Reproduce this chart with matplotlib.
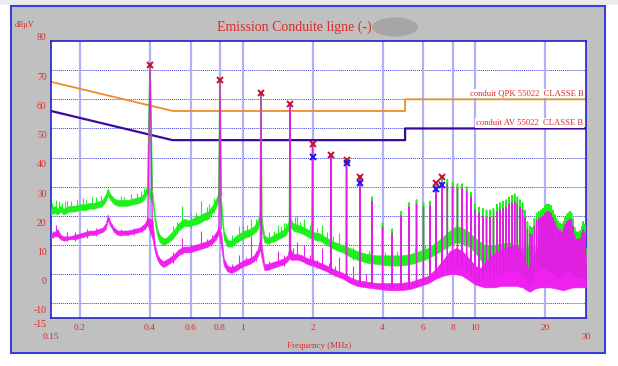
import numpy as np
import matplotlib
matplotlib.use('Agg')
from matplotlib import pyplot as plt
from matplotlib.patches import Rectangle, Ellipse
from matplotlib.ticker import NullLocator

plt.rcParams['font.family'] = ['Liberation Serif', 'DejaVu Serif']

RED = '#e02828'

# ---- limit lines (EN 55022 class B) ----
qpk_freq = [0.15, 0.5, 5.0, 5.0, 30.0]
qpk_level = [66, 56, 56, 60, 60]
av_freq = [0.15, 0.5, 5.0, 5.0, 30.0]
av_level = [56, 46, 46, 50, 50]

# ---- peak trace (green): noise floor band, MHz / dBuV low / dBuV high ----
g_freq = [0.15, 0.155, 0.16, 0.165, 0.17, 0.18, 0.19, 0.20, 0.21, 0.22, 0.23, 0.24, 0.25,
          0.258, 0.263, 0.27, 0.28, 0.29, 0.30, 0.32, 0.34, 0.36, 0.37, 0.38, 0.39, 0.41,
          0.42, 0.43, 0.44, 0.455, 0.47, 0.49, 0.51, 0.53, 0.56, 0.59, 0.62, 0.65, 0.68,
          0.71, 0.74, 0.77, 0.79, 0.81, 0.83, 0.86, 0.89, 0.93, 0.97, 1.02, 1.07, 1.12,
          1.16, 1.19, 1.21, 1.24, 1.28, 1.33, 1.39, 1.45, 1.51, 1.56, 1.59, 1.61, 1.65,
          1.72, 1.80, 1.90, 2.0, 2.15, 2.3, 2.5, 2.7, 2.9, 3.1, 3.4, 3.8, 4.3, 4.8, 5.3,
          5.8, 6.3, 6.8, 7.3, 7.8, 8.3, 8.8, 9.4, 10, 11, 12, 14, 16, 18, 20, 23, 26, 30]
g_low = [20.5, 21, 20.5, 21.5, 20.5, 21.5, 21.5, 22, 22, 22.5, 22.5, 23, 23.5,
         25, 27, 25.5, 24, 23.5, 23.5, 23.5, 24, 24.5, 25, 26, 28, 24,
         17, 13, 11, 10, 10.5, 11.5, 13, 15, 16.5, 16.5, 17, 17.5, 18.5,
         19, 21, 23, 25.5, 20, 12, 9.5, 9.5, 10.5, 11.5, 12.5, 13, 14,
         15.5, 18, 15, 11, 10.5, 11, 11.5, 12.5, 13, 14.5, 16, 16, 15,
         14.5, 14, 13, 12, 11.5, 10, 8.5, 7.5, 6, 5, 4, 3.5, 3, 3, 3.5,
         4.5, 5.5, 7, 8.5, 10, 11, 10.5, 9.5, 7.5, 3, 2, 2, 2, 2, 2, 2, 2, 2]
g_high = [22.5, 23.5, 22.5, 23.5, 22.5, 23.5, 23.5, 24, 24, 24.5, 24.5, 25, 25.5,
          27.5, 29.5, 27.5, 26, 25.5, 25.5, 25.5, 26, 26.5, 27, 28.5, 30.5, 28,
          20, 15.5, 13.5, 12.5, 12.5, 14, 15.5, 17.5, 19, 18.5, 19.5, 20, 21,
          21.5, 23.5, 26, 28.5, 25, 15, 12, 11.5, 13, 14, 15, 15.5, 16.5,
          18.5, 21.5, 19, 13.5, 12.5, 13, 14, 14.5, 15.5, 17, 19, 19, 17.5,
          17, 16.5, 15.5, 14.5, 14, 12.5, 11, 10, 9, 8, 7, 6.5, 6.5, 6.5, 7,
          8, 9, 11, 13, 15, 16.5, 16, 14.5, 12.5, 10, 10, 11, 9, 10, 12, 10, 11, 9]

# ---- average trace (magenta): noise floor band ----
m_freq = [0.15, 0.155, 0.16, 0.165, 0.17, 0.18, 0.19, 0.20, 0.21, 0.22, 0.23, 0.24, 0.25,
          0.258, 0.263, 0.27, 0.28, 0.29, 0.30, 0.32, 0.34, 0.36, 0.37, 0.38, 0.39, 0.41,
          0.42, 0.43, 0.44, 0.455, 0.47, 0.49, 0.51, 0.53, 0.56, 0.59, 0.62, 0.65, 0.68,
          0.71, 0.74, 0.77, 0.79, 0.81, 0.83, 0.86, 0.89, 0.93, 0.97, 1.02, 1.07, 1.12,
          1.16, 1.19, 1.21, 1.24, 1.28, 1.33, 1.39, 1.45, 1.51, 1.56, 1.59, 1.61, 1.65,
          1.72, 1.80, 1.90, 2.0, 2.15, 2.3, 2.5, 2.7, 2.9, 3.1, 3.4, 3.8, 4.3, 4.8, 5.3,
          5.8, 6.3, 6.8, 7.3, 7.8, 8.3, 8.8, 9.4, 10, 10.5, 11, 12, 13, 14, 15, 16, 16.7,
          17.2, 18, 19, 20, 21, 22.5, 24, 25, 26.5, 28, 30]
m_low = [12.5, 13, 13, 12, 11.5, 12, 12, 12.5, 13, 13.5, 13.5, 14, 14.5,
         15.5, 18.5, 16.5, 14.5, 13.5, 13.5, 13.5, 14, 14.5, 15, 15.5, 17, 12,
         7.5, 5, 3.5, 2.5, 3, 4, 5, 6.5, 7.5, 7.5, 8, 8.5, 9,
         9.5, 10.5, 12, 14, 9, 3, 1, 0.5, 1, 2, 3, 3.5, 4.5,
         6, 8.5, 5, 1.5, 1.5, 2, 2.5, 3, 3.5, 4.5, 5.5, 5, 5,
         5, 4.5, 3.5, 3, 2, 1, -0.5, -1.5, -3, -4, -4.5, -5, -5.5, -5.5, -5,
         -4, -3, -1.5, -0.5, 0, 0, -0.5, -2, -3.5, -4, -4.5, -4.5, -4, -4, -4, -4.5, -5.5,
         -6, -5, -4.5, -4.5, -4.5, -5, -5.5, -5, -4.5, -4.5, -4.5]
m_high = [14, 14.5, 15.5, 13.5, 13, 13, 13.5, 14, 14.5, 15, 15, 15.5, 16,
          17.5, 20.5, 18, 16, 15, 15, 15, 15.5, 16, 16.5, 17.5, 19.5, 18.5,
          10, 7, 5.5, 4.5, 5, 6, 7, 8.5, 9.5, 9.5, 10, 10.5, 11,
          11.5, 12.5, 14.5, 16.5, 14, 5.5, 3, 2.5, 3, 4, 5, 5.5, 6.5,
          8.5, 12, 9.5, 3.5, 3.5, 4, 4.5, 5, 5.5, 6.5, 9, 8.5, 7,
          7, 6.5, 5.5, 5, 4, 3, 1.5, 0.5, -1, -2, -2.5, -3, -3, -3, -2.5,
          -1.5, -0.5, 2, 5, 8, 9, 8, 5.5, 3, 2, 4, 7, 8.5, 9.5, 10, 7.5, 3,
          1.5, 7, 11, 12.5, 12, 10, 7, 10.5, 11, 8, 7]

# ---- harmonic comb, 0.4 MHz spacing ----
harm_freq = 0.4 * np.arange(1, 76)
green_peak = [71.8, 66.7, 62.1, 58.4, 44.6, 40.9, 39.3, 33.4, 26.5, 17.5,
              15.5, 21.5, 24.5, 25.5, 24.5, 25, 31.4, 33.4, 32.5, 31.5,
              31, 31, 30, 28, 24, 23, 22.5, 22, 22, 22.5,
              24, 24.5, 25, 25.5, 26.5, 27, 27.5, 26.5, 25.5, 24.5,
              22, 18, 16.5, 16, 19, 21, 21.5, 22, 22.5, 23.5,
              24, 24, 23.5, 22, 20.5, 19, 18, 17.5, 17, 18,
              19.5, 20.5, 21, 21.5, 21, 19, 16, 14.5, 14.5, 14.5,
              15, 16.5, 18, 17, 15.5]
green_base = [29, 27, 19, 17.5, 13.5, 11.5, 9, 6.5, 5, 4.5,
              4.5, 5, 5.5, 6, 6.5, 7.5, 9, 11, 12.5, 13,
              13.5, 13, 12, 11, 9.5, 8, 6.5, 6, 6, 6,
              6, 6.5, 6.5, 7, 7, 7, 7, 7, 6.5, 6,
              5, 4, 3, 4, 5.5, 7, 8, 8.5, 8.5, 9,
              9, 8.5, 8, 7.5, 7, 6, 5, 4.5, 5, 6,
              7, 7.5, 7.5, 7.5, 7, 6, 5, 4.5, 4.5, 4.5,
              4.5, 5, 5, 5, 5]
mag_peak = [71.5, 66.4, 61.8, 58, 44.3, 40.6, 39, 33.1, 25, 16,
            14, 20, 23, 24, 23, 23.5, 30, 31.5, 31, 30,
            29.5, 29.5, 28.5, 26.5, 22, 21, 20, 19.5, 19.5, 20,
            21.5, 22, 22.5, 23, 24, 24.5, 25, 24, 23, 22,
            19.5, 15.5, 14, 13.5, 16.5, 18.5, 19, 19.5, 20, 21,
            21.5, 21.5, 21, 19.5, 18, 16.5, 15.5, 15, 14.5, 15.5,
            17, 18, 18.5, 19, 18.5, 16.5, 13.5, 12, 12, 12,
            12.5, 14, 15.5, 14.5, 13]
mag_base = [17, 15.5, 9.5, 7, 4, 1.5, -1, -3, -4, -4,
            -4.5, -4.5, -4.5, -4, -3, -2, -1, 0, 1.5, 2.5,
            3, 2.5, 1, -0.5, -2, -2.5, -2.5, -2, -1.5, -1,
            0, 0.5, 1, 1, 1.5, 1.5, 1.5, 1, 0.5, 0,
            -1, -2.5, -3.5, -2, -0.5, 1, 2, 2, 2, 2,
            2, 1.5, 1, 0.5, 0, -0.5, -1, -1.5, -1, 0,
            0.5, 1, 1, 1, 0.5, 0, -0.5, -1, -1, -1,
            -1, -1, -1, -1, -1]

# spurs and noise spikes between the harmonics
g_spur_freq = [0.152, 0.158, 0.162, 0.168, 0.172, 0.176, 0.183, 0.195, 0.205, 0.213, 0.225,
               0.235, 0.245, 0.30, 0.31, 0.33, 0.35, 0.365, 0.375, 0.50, 0.52, 0.55, 0.60,
               0.63, 0.66, 0.70, 0.72, 0.75, 0.90, 0.97, 1.0, 1.04, 1.09, 1.14, 1.30, 1.36,
               1.42, 1.47, 1.50, 1.54, 1.68, 1.72, 1.77, 1.83, 1.95, 2.1, 2.2, 2.3, 2.45,
               2.6, 2.75, 3.0, 3.5, 4.1, 4.6, 5.5, 6.1]
g_spur_top = [24.5, 25.5, 25, 24.5, 25, 25, 25, 25.5, 26, 25.5, 26.5,
              26.5, 27, 27, 26.5, 27.5, 28, 28.5, 29.5, 16.5, 18, 23.5, 21,
              21, 25, 23, 24, 26, 13.5, 16.5, 16.5, 17, 19, 19, 14.5, 15,
              17, 16.5, 17.5, 17.5, 19.5, 20, 18, 19, 17, 16, 17, 14.5, 13,
              14, 11, 9.5, 8, 7.5, 8, 9, 10]
g_spur_base = [21, 22, 21, 21, 21.5, 21, 21.5, 22, 22, 22, 22.5,
               23, 23, 23.5, 23.5, 24, 24.5, 25, 25.5, 12, 14, 17.5, 16,
               17, 18, 18.5, 19, 21, 9.5, 13, 12, 13, 14.5, 14.5, 10.5, 11,
               13, 12.5, 14, 13.5, 15, 16, 14, 15, 12.5, 11.5, 12.5, 10, 9,
               10, 7, 5, 4, 3, 3, 4, 5]
m_spur_freq = [0.153, 0.158, 0.175, 0.19, 0.215, 0.235, 0.30, 0.34, 0.37, 0.50, 0.55, 0.60,
               0.66, 0.70, 0.74, 0.90, 0.97, 1.03, 1.09, 1.14, 1.30, 1.42, 1.50, 1.65, 1.72,
               1.83, 1.95, 2.1, 2.2, 2.35, 2.5, 2.6, 3.0, 3.4]
m_spur_top = [15, 17, 14.5, 14.5, 15.5, 16, 15.5, 16, 17, 7.5, 12.5, 10.5,
              15, 12, 13.5, 3.5, 6.5, 6, 13, 8, 4.5, 8, 6.5, 9, 11,
              10, 6.5, 5, 9, 4, 3, 6, 3, 0]
m_spur_base = [12.5, 13.5, 11.5, 11.5, 12.5, 13, 13, 13.5, 14.5, 4, 8, 7.5,
               9.5, 9.5, 10.5, 0.5, 3, 3, 4.5, 4.5, 1.5, 3, 3, 5, 6,
               5.5, 3, 2, 3, 0.5, -0.5, 0.5, -2, -3]

# final measurement markers
qp_freq = [0.4, 0.8, 1.2, 1.6, 2.0, 2.4, 2.8, 3.2, 6.8, 7.2]
qp_level = [71.8, 66.7, 62.1, 58.4, 44.6, 40.9, 39.3, 33.4, 31.4, 33.4]
avm_freq = [2.0, 2.8, 3.2, 6.8, 7.2]
avm_level = [40.3, 38.2, 31.2, 29.2, 30.7]

xticks = [0.2, 0.4, 0.6, 0.8, 1, 2, 4, 6, 8, 10, 20]
xticklabels = ['0.2', '0.4', '0.6', '0.8', '1', '2', '4', '6', '8', '10', '20']
yticks = [-10, 0, 10, 20, 30, 40, 50, 60, 70, 80]


def spike_path(freq, base, peak, hw=0.009):
    xs, ys = [], []
    for f, b, p in zip(freq, base, peak):
        xs += [f - hw, f, f + hw, np.nan]
        ys += [b, p, b, np.nan]
    return xs, ys


fig = plt.figure(figsize=(6.18, 3.66), dpi=100)
fig.patch.set_facecolor('white')
W, H = 618.0, 366.0

fig.add_artist(Rectangle((0, 1 - 5 / H), 1, 5 / H, transform=fig.transFigure,
                         facecolor='#ececec', edgecolor='none', zorder=0))
fig.add_artist(Rectangle((11 / W, 1 - 353 / H), 594 / W, 347 / H, transform=fig.transFigure,
                         facecolor='#c0c0c0', edgecolor='#3c3cdc', lw=1.5, zorder=0))

ax = fig.add_axes([51 / W, 1 - 318 / H, 535 / W, 277 / H])
ax.set_facecolor('white')
ax.set_xscale('log')
ax.set_xlim(0.15, 30)
ax.set_ylim(-15, 80)

ax.set_xticks(xticks)
ax.set_xticklabels(xticklabels)
ax.xaxis.set_minor_locator(NullLocator())
ax.set_yticks(yticks)
ax.set_yticklabels([])
ax.tick_params(axis='both', length=0)
ax.tick_params(axis='x', colors=RED, labelsize=6.8, pad=4)
ax.grid(axis='x', color='#b0b0f4', lw=1.6, zorder=0.5)
for v in yticks[:-1]:
    ax.axhline(v, color='#3c3cd8', lw=0.7, ls=(0, (1, 1)), zorder=0.6)
for s in ax.spines.values():
    s.set_color('#2222cc')
    s.set_linewidth(1.2)

# y labels sit just below their grid line
ytr = ax.get_yaxis_transform()
for v in yticks:
    yy = v + 1.1 if v == 80 else v - 2.5
    ax.text(-0.008, yy, str(v), transform=ytr, ha='right', va='center',
            color=RED, fontsize=7, clip_on=False)
ax.text(-0.008, -17.4, '-15', transform=ytr, ha='right', va='center',
        color=RED, fontsize=7, clip_on=False)
xtr = ax.get_xaxis_transform()
ax.text(0.15, -0.068, '0.15', transform=xtr, ha='center', va='center',
        color=RED, fontsize=6.8, clip_on=False)
ax.text(30, -0.07, '30', transform=xtr, ha='center', va='center',
        color=RED, fontsize=6.8, clip_on=False)

# limits
ax.plot(qpk_freq, qpk_level, color='#f08c28', lw=1.3, zorder=2)
ax.plot(av_freq, av_level, color='#3a0a9a', lw=1.6, zorder=2)
ax.text(0.995, 60.6, 'conduit QPK 55022  CLASSE B', transform=ytr, ha='right', va='bottom',
        color=RED, fontsize=6.2, zorder=7,
        bbox=dict(facecolor='white', edgecolor='none', pad=0.6))
ax.text(0.995, 50.6, 'conduit AV 55022  CLASSE B', transform=ytr, ha='right', va='bottom',
        color=RED, fontsize=6.2, zorder=7,
        bbox=dict(facecolor='white', edgecolor='none', pad=0.6))

# peak trace
ax.fill_between(g_freq, g_low, g_high, color='#1ef01e', lw=0.4, zorder=3)
gx, gy = spike_path(harm_freq, green_base, green_peak)
ax.plot(gx, gy, color='#1ef01e', lw=1.1, zorder=3)
ax.vlines(g_spur_freq, g_spur_base, g_spur_top, color='#1ef01e', lw=0.8, zorder=3)

# average trace
ax.fill_between(m_freq, m_low, m_high, color='#f020f0', lw=0.4, zorder=4)
mx, my = spike_path(harm_freq, mag_base, mag_peak)
ax.plot(mx, my, color='#e020e0', lw=0.9, zorder=4)
ax.vlines(m_spur_freq, m_spur_base, m_spur_top, color='#f020f0', lw=0.8, zorder=4)

# markers
ax.plot(qp_freq, qp_level, ls='none', marker='x', ms=4, mew=1.4, color='#c8102e', zorder=6)
ax.plot(avm_freq, avm_level, ls='none', marker='x', ms=4, mew=1.4, color='#1515ee', zorder=6)

# texts on the panel
fig.text(294 / W, 1 - 27 / H, 'Emission Conduite ligne (-)', ha='center', va='center',
         color=RED, fontsize=10)
fig.add_artist(Ellipse((395 / W, 1 - 27 / H), 46 / W, 19 / H, transform=fig.transFigure,
                       facecolor='#a6a6a6', edgecolor='none'))
fig.text(24.7 / W, 1 - 25 / H, 'dBµV', ha='center', va='center', color=RED, fontsize=5.8)
fig.text(319 / W, 1 - 346.5 / H, 'Frequency (MHz)', ha='center', va='center',
         color=RED, fontsize=6.4)

fig.savefig('out.png', dpi=100)
